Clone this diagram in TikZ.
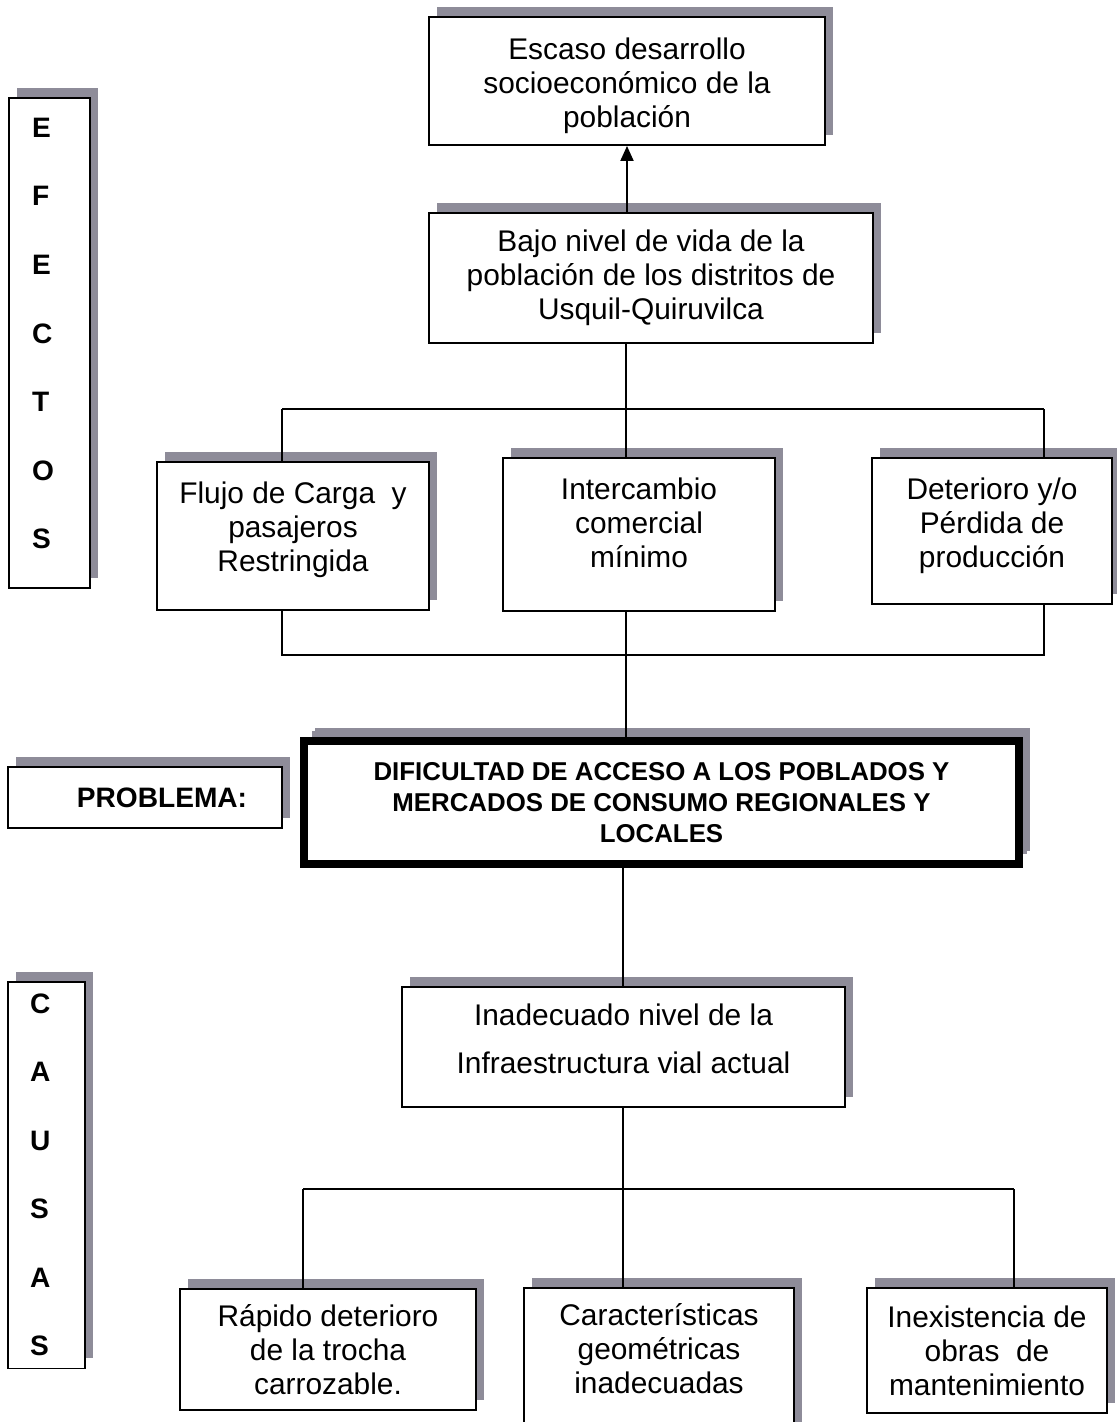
\documentclass[tikz,border=0pt]{standalone}
\usepackage{fontspec}
\setmainfont{Liberation Sans}
\usetikzlibrary{arrows.meta,shadows}
\definecolor{shd}{HTML}{8E8C99}

\begin{document}
\begin{tikzpicture}[x=0.02cm,y=-0.02cm,
  >={Triangle[length=3mm,width=2.6mm]},
  line width=1.1pt,
  box/.style={rectangle,draw,line width=1.1pt,fill=white,align=center,inner sep=0pt,
              drop shadow={shadow xshift=1.6mm,shadow yshift=2mm,fill=shd,opacity=1},
              font=\fontsize{17}{19.4}\selectfont},
  side/.style={box,align=left,font=\bfseries\fontsize{16}{39}\selectfont}]

\useasboundingbox (0,0) rectangle (1116,1422);

\node[side,text width=0.7cm,inner xsep=0.46cm,minimum height=9.8cm] (efectos) at (49.5,343)
  {E\\F\\E\\C\\T\\O\\S\\[-28pt]\mbox{}};
\node[side,text width=0.66cm,inner xsep=0.44cm,minimum height=7.74cm] (causas) at (46.7,1175)
  {C\\A\\U\\S\\A\\S};
\node[box,minimum width=5.48cm,minimum height=1.22cm,font=\bfseries\fontsize{16}{19}\selectfont] (problema) at (145,797.5)
  {\hspace*{0.68cm}PROBLEMA:};

\node[box,minimum width=7.92cm,minimum height=2.56cm] (escaso) at (627,81)
  {Escaso desarrollo\\socioeconómico de la\\población\\[-21.4pt]\mbox{}};
\node[box,minimum width=8.88cm,minimum height=2.6cm] (bajo) at (651,278)
  {Bajo nivel de vida de la\\población de los distritos de\\Usquil-Quiruvilca};

\node[box,minimum width=5.44cm,minimum height=2.96cm] (flujo) at (293,536)
  {Flujo de Carga~ y\\pasajeros\\Restringida\\[-8.6pt]\mbox{}};
\node[box,minimum width=5.44cm,minimum height=3.06cm] (inter) at (639,534.5)
  {Intercambio\\comercial\\mínimo\\[-5.8pt]\mbox{}};
\node[box,minimum width=4.8cm,minimum height=2.92cm] (deter) at (992,531)
  {Deterioro y/o\\Pérdida de\\producción\\[-9.8pt]\mbox{}};

\node[box,line width=4.5pt,minimum width=14.3cm,minimum height=2.46cm,
      drop shadow={shadow xshift=2.2mm,shadow yshift=2.6mm,fill=shd,opacity=1},
      font=\bfseries\fontsize{14.7}{17.6}\selectfont] (dific) at (661.5,802.5)
  {DIFICULTAD DE ACCESO A LOS POBLADOS Y\\MERCADOS DE CONSUMO REGIONALES Y\\LOCALES};

\node[box,minimum width=8.86cm,minimum height=2.4cm,font=\fontsize{17}{27.3}\selectfont] (inad) at (623.5,1047)
  {Inadecuado nivel de la\\Infraestructura vial actual\\[-18.2pt]\mbox{}};

\node[box,minimum width=5.92cm,minimum height=2.42cm] (rapido) at (328,1349.5)
  {Rápido deterioro\\de la trocha\\carrozable.};
\node[box,minimum width=5.4cm,minimum height=3.24cm] (caract) at (659,1369)
  {Características\\geométricas\\inadecuadas\\[4.4pt]\mbox{}};
\node[box,minimum width=4.8cm,minimum height=2.5cm] (inexist) at (987,1350.5)
  {Inexistencia de\\obras~ de\\mantenimiento};

\coordinate (e0) at (626,409);
\coordinate (e1) at (282,409);
\coordinate (e2) at (1044,409);
\coordinate (f0) at (626,655);
\coordinate (f1) at (282,655);
\coordinate (f2) at (1044,655);
\coordinate (c0) at (623,1189);
\coordinate (c1) at (303,1189);
\coordinate (c2) at (1014,1189);

\draw[->] (escaso.south |- bajo.north) -- (escaso.south);
\draw (bajo.south -| e0) -- (e0);
\draw (e1) -- (e2);
\draw (e1) -- (flujo.north -| e1);
\draw (e0) -- (inter.north -| e0);
\draw (e2) -- (deter.north -| e2);
\draw (flujo.south -| f1) -- (f1) -- (f2) -- (deter.south -| f2);
\draw (inter.south -| f0) -- (dific.north -| f0);
\draw (dific.south -| c0) -- (inad.north -| c0);
\draw (inad.south -| c0) -- (c0);
\draw (c1) -- (c2);
\draw (c1) -- (rapido.north -| c1);
\draw (c0) -- (caract.north -| c0);
\draw (c2) -- (inexist.north -| c2);
\end{tikzpicture}
\end{document}
